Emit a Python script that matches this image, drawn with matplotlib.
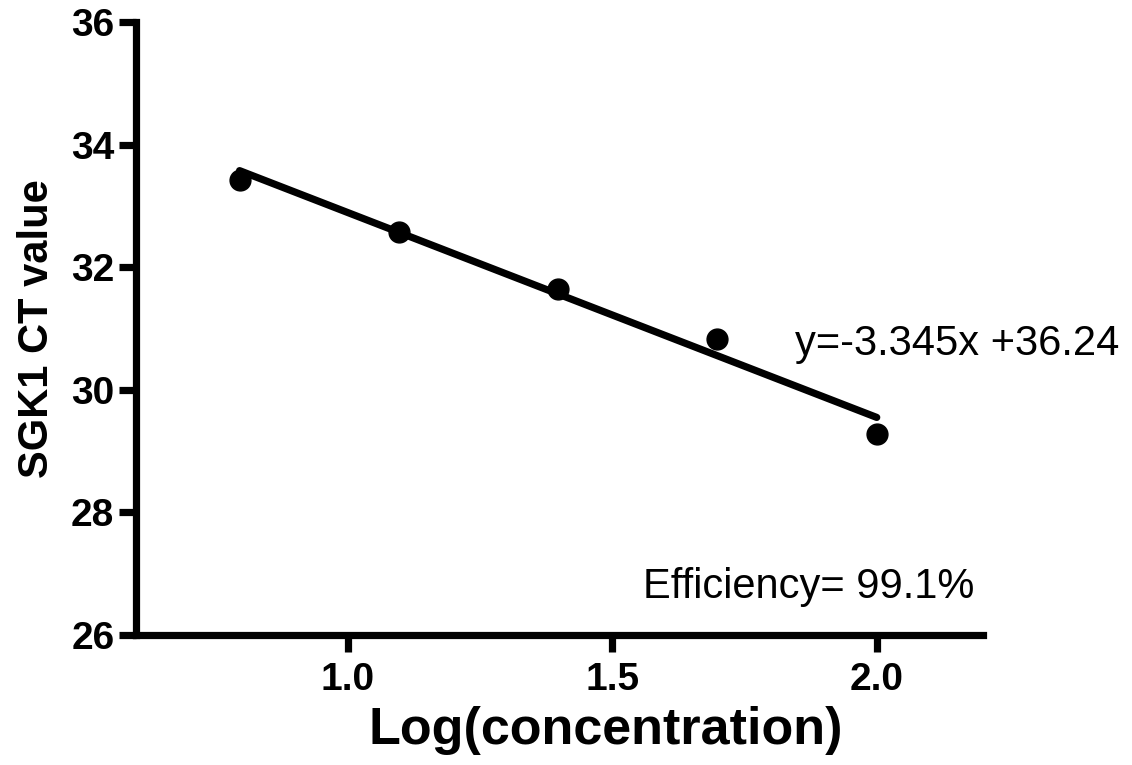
import numpy as np
import matplotlib
matplotlib.use("Agg")
import matplotlib.pyplot as plt

# Standard curve for SGK1: Ct versus log10 of template concentration
log_conc = [0.796, 1.097, 1.398, 1.699, 2.0]
ct_values = [33.42, 32.57, 31.64, 30.83, 29.28]
slope = -3.345
intercept = 36.24
efficiency = 99.1

x_ticks = [1.0, 1.5, 2.0]
y_ticks = [26, 28, 30, 32, 34, 36]

plt.rcParams['font.family'] = ['Liberation Sans', 'DejaVu Sans']

fig = plt.figure(figsize=(11.32, 7.65), dpi=100)
ax = fig.add_axes([0.120, 0.170, 0.748, 0.801])

# Regression line over the measured range
xf = np.array([min(log_conc), max(log_conc)])
ax.plot(xf, slope * xf + intercept, color='black', lw=5.2,
        solid_capstyle='round', zorder=2)
ax.plot(log_conc, ct_values, 'o', color='black', ms=15, zorder=3)

ax.set_xlim(0.6, 2.2)
ax.set_ylim(26, 36)
ax.set_xticks(x_ticks)
ax.set_xticklabels([f"{t:.1f}" for t in x_ticks])
ax.set_yticks(y_ticks)
ax.set_yticklabels([str(t) for t in y_ticks])

for side in ('top', 'right'):
    ax.spines[side].set_visible(False)
for side in ('left', 'bottom'):
    ax.spines[side].set_linewidth(5.2)
    ax.spines[side].set_capstyle('projecting')

ax.tick_params(axis='both', width=5.2, length=12.5, labelsize=28)
ax.tick_params(axis='x', pad=7)
ax.tick_params(axis='y', pad=3)
for lab in ax.get_xticklabels() + ax.get_yticklabels():
    lab.set_fontweight('bold')

ax.set_xlabel("Log(concentration)", fontsize=37.5, fontweight='bold', labelpad=6)
ax.xaxis.label.set_x(0.555)
ax.set_ylabel("SGK1 CT value", fontsize=30, fontweight='bold', labelpad=10)

ax.text(1.845, 30.57, f"y={slope}x +{intercept}", fontsize=30,
        ha='left', va='baseline')
ax.text(1.558, 26.6, f"Efficiency= {efficiency}%", fontsize=30,
        ha='left', va='baseline')

fig.savefig("out.png", dpi=100)
